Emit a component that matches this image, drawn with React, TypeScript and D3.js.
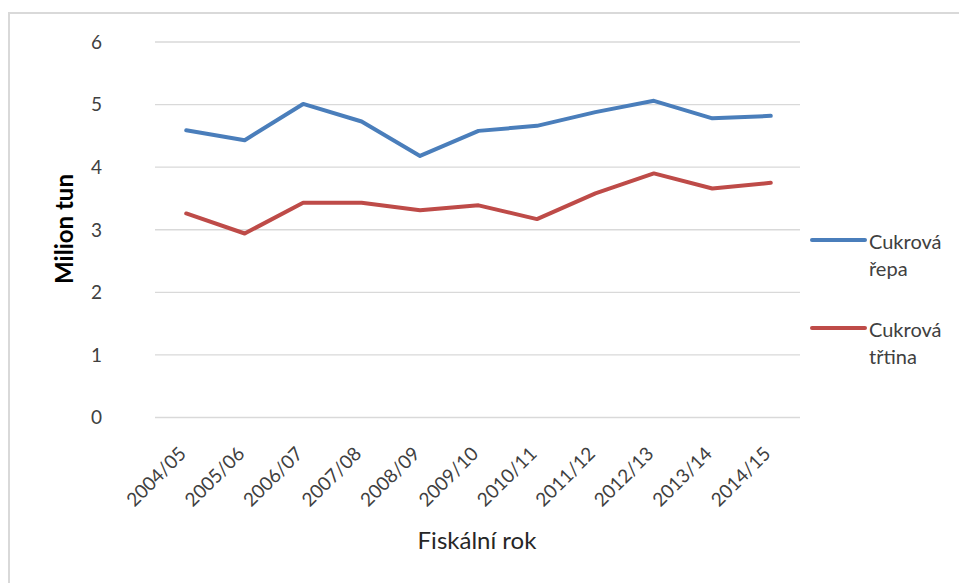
import React from "react";
import * as d3 from "d3";

const categories = ["2004/05", "2005/06", "2006/07", "2007/08", "2008/09", "2009/10", "2010/11", "2011/12", "2012/13", "2013/14", "2014/15"];
const sugarBeet = [4.59, 4.43, 5.01, 4.73, 4.18, 4.58, 4.66, 4.88, 5.06, 4.78, 4.82];
const sugarCane = [3.26, 2.94, 3.43, 3.43, 3.31, 3.39, 3.17, 3.58, 3.9, 3.66, 3.75];
const yTicks = [0, 1, 2, 3, 4, 5, 6];
const seriesNames = [["Cukrová", "řepa"], ["Cukrová", "třtina"]];
const seriesColors = ["#4A7EBB", "#BE4B48"];

const W = 959;
const H = 583;
const FONT = "Lato, 'Open Sans', sans-serif";

export default function App() {
  const x = d3.scalePoint<string>().domain(categories).range([157, 800]).padding(0.5);
  const y = d3.scaleLinear().domain([0, 6]).range([417.5, 42]);
  const line = d3
    .line<number>()
    .x((_, i) => x(categories[i]) as number)
    .y((d) => y(d));
  const series = [sugarBeet, sugarCane];
  const legendY = [240, 328];

  return (
    <>
      <style>{`body{margin:0;background:#fff}`}</style>
      <svg width={W} height={H} style={{ display: "block" }} fontFamily={FONT}>
        <rect x={0} y={0} width={W} height={H} fill="#fff" />
        <rect x={9} y={13} width={1200} height={1200} fill="none" stroke="#d9d9d9" strokeWidth={2} />
        {yTicks.map((t) => (
          <line key={"g" + t} x1={155} x2={800} y1={y(t)} y2={y(t)} stroke="#d9d9d9" strokeWidth={1.3} />
        ))}
        {yTicks.map((t) => (
          <text key={"yt" + t} x={102} y={y(t)} dy="0.36em" textAnchor="end" fontSize={19} fill="#404040">
            {t}
          </text>
        ))}
        {categories.map((c) => (
          <text
            key={"xt" + c}
            transform={`translate(${(x(c) as number) + 1},${455}) rotate(-45)`}
            textAnchor="end"
            fontSize={19}
            fill="#404040"
          >
            {c}
          </text>
        ))}
        {series.map((s, i) => (
          <path key={"s" + i} d={line(s) || ""} fill="none" stroke={seriesColors[i]} strokeWidth={4} strokeLinejoin="round" strokeLinecap="round" />
        ))}
        <text transform={`translate(73,229) rotate(-90)`} textAnchor="middle" fontSize={24} fontWeight="bold" fill="#000">
          Milion tun
        </text>
        <text x={477} y={549} textAnchor="middle" fontSize={24} fill="#262626">
          Fiskální rok
        </text>
        {seriesNames.map((names, i) => (
          <g key={"lg" + i}>
            <line x1={812} x2={865} y1={legendY[i]} y2={legendY[i]} stroke={seriesColors[i]} strokeWidth={4} strokeLinecap="round" />
            {names.map((n, j) => (
              <text key={j} x={869} y={legendY[i] + 8.5 + j * 27.5} fontSize={20} fill="#404040">
                {n}
              </text>
            ))}
          </g>
        ))}
      </svg>
    </>
  );
}
